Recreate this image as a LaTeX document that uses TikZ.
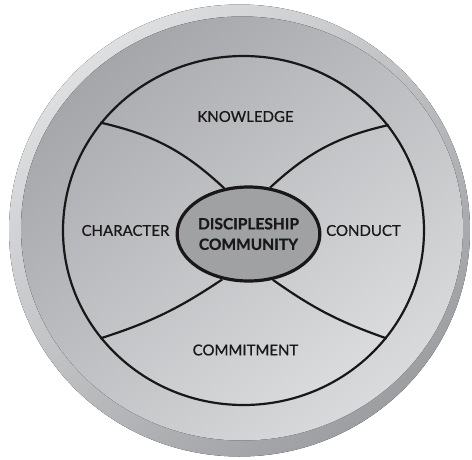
\documentclass[tikz,border=0pt]{standalone}
\usepackage{fontspec}
\setmainfont{Lato}
\usetikzlibrary{shapes.geometric}
\definecolor{rimlight}{HTML}{DEDFE1}
\definecolor{rimdark}{HTML}{9C9EA1}
\definecolor{facedark}{HTML}{A4A6A9}
\definecolor{facelight}{HTML}{D9DADC}
\definecolor{ringdark}{HTML}{ADAFB2}
\definecolor{ringlight}{HTML}{DADBDD}
\definecolor{hubfill}{HTML}{A0A1A3}
\definecolor{ink}{HTML}{1A1718}
\tikzset{
  x=1pt, y=1pt,
  label/.style={font=\fontsize{15}{16}\selectfont\addfontfeature{FakeBold=0.6}, text=ink, inner sep=0pt},
  spoke/.style={draw=ink, line width=2.2pt},
}
\begin{document}
\begin{tikzpicture}
\useasboundingbox (0,0) rectangle (472,-459);
% outer rim
\fill[shading=axis, top color=rimlight, bottom color=rimdark, shading angle=40]
  (239.5,-230.5) ellipse [x radius=230.5, y radius=226];
% face
\fill[shading=axis, top color=facedark, bottom color=facelight, shading angle=40]
  (242,-228.5) ellipse [x radius=221, y radius=212];
% ring
\node[ellipse, draw=ink, line width=2.2pt, minimum width=361, minimum height=349, inner sep=0pt,
      shading=axis, top color=ringdark, bottom color=ringlight, shading angle=40] (ring) at (243.5,-230.5) {};
% hub
\node[ellipse, draw=ink, line width=3.2pt, fill=hubfill, minimum width=126, minimum height=94, inner sep=0pt,
      align=center, font=\bfseries\fontsize{15.5}{20.5}\selectfont\addfontfeature{FakeBold=0.8}, text=ink] (hub) at (248.5,-234) {DISCIPLESHIP\\COMMUNITY};
% spokes
\draw[spoke] (ring.143.6) to[bend left=15] (hub.118);
\draw[spoke] (ring.36.9) to[bend right=15] (hub.65.6);
\draw[spoke] (ring.217.9) to[bend right=8] (hub.240.7);
\draw[spoke] (ring.323.6) to[bend left=8] (hub.298);
% labels
\node[label] (knowledge) at (245.5,-116.5) {KNOWLEDGE};
\node[label] (character) at (125.5,-230.5) {CHARACTER};
\node[label] (conduct) at (363.5,-230.5) {CONDUCT};
\node[label] (commitment) at (245.5,-350) {COMMITMENT};
\end{tikzpicture}
\end{document}
